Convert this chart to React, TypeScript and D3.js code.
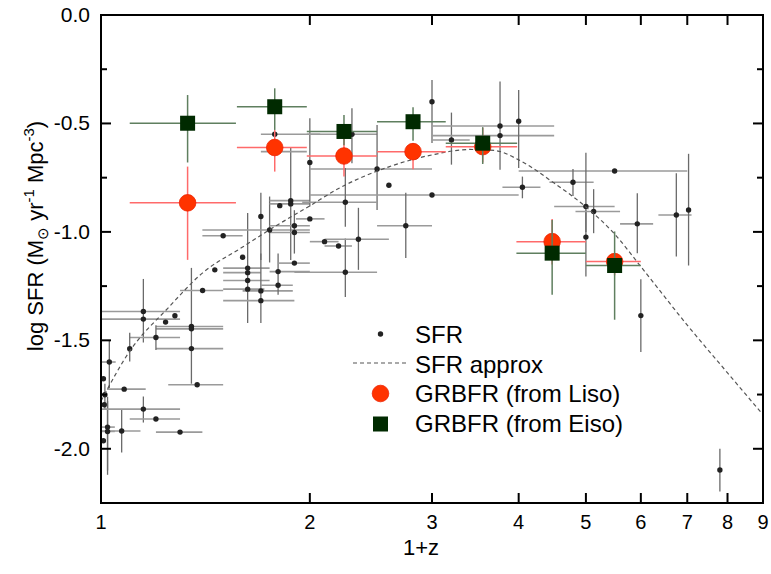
import React from 'react';
import * as d3 from 'd3';

const W = 771;
const H = 574;
const PL = 101, PR = 763, PT = 15, PB = 503;

const xTickValues = [1, 2, 3, 4, 5, 6, 7, 8, 9];
const yMajorTicks = [0, -0.5, -1.0, -1.5, -2.0];
const yMinorTicks = [-0.25, -0.75, -1.25, -1.75];

// SFR compilation: [1+z, log SFR, zLo, zHi, logLo, logHi]
type Pt = [number, number, number | null, number | null, number | null, number | null];
const sfrPoints: Pt[] = [
  [1.008, -1.677, null, null, null, null],
  [1.013, -1.751, null, null, -1.82, -1.7],
  [1.011, -1.797, null, null, null, null],
  [1.008, -1.963, null, null, null, null],
  [1.028, -1.6, 1.0, 1.05, -1.72, -1.5],
  [1.022, -1.9, 1.0, 1.047, -2.1, -1.76],
  [1.022, -1.92, 1.0, 1.047, -2.12, -1.78],
  [1.08, -1.725, 1.02, 1.16, null, null],
  [1.071, -1.918, 1.0, 1.14, -2.017, -1.82],
  [1.151, -1.367, 1.0, 1.3, -1.4, -1.217],
  [1.151, -1.402, 1.0, 1.3, -1.51, -1.4],
  [1.278, -1.387, null, null, null, null],
  [1.239, -1.416, null, null, null, null],
  [1.35, -1.436, 1.2, 1.5, -1.7, -1.166],
  [1.35, -1.447, 1.2, 1.5, null, null],
  [1.35, -1.538, 1.2, 1.5, null, null],
  [1.376, -1.705, 1.25, 1.5, null, null],
  [1.2, -1.487, 1.1, 1.3, -1.544, -1.43],
  [1.1, -1.539, null, null, -1.598, -1.465],
  [1.151, -1.817, 1.0, 1.3, -1.879, -1.759],
  [1.2, -1.863, 1.1, 1.3, null, null],
  [1.3, -1.923, 1.2, 1.4, null, null],
  [1.401, -1.27, 1.3, 1.5, null, null],
  [1.459, -1.175, null, null, null, null],
  [1.6, -1.117, null, null, null, null],
  [1.5, -1.018, 1.4, 1.6, null, null],
  [1.627, -1.167, 1.5, 1.75, -1.42, -0.913],
  [1.627, -1.188, 1.5, 1.7, null, null],
  [1.627, -1.224, 1.5, 1.75, null, null],
  [1.627, -1.264, 1.5, 1.72, null, null],
  [1.7, -0.929, null, null, -1.13, -0.82],
  [1.7, -1.272, 1.6, 1.89, -1.42, -1.1],
  [1.7, -1.317, 1.5, 1.9, null, null],
  [1.8, -1.183, 1.75, 2.0, -1.29, -1.1],
  [1.8, -1.246, 1.7, 1.89, null, null],
  [1.75, -0.991, 1.4, 2.0, -1.141, -0.837],
  [1.81, -0.879, null, null, null, null],
  [1.877, -0.856, 1.75, 2.0, -1.13, -0.613],
  [1.877, -0.871, 1.75, 2.0, null, null],
  [1.9, -0.972, 1.75, 2.0, -1.1, -0.9],
  [1.9, -1.003, 1.75, 2.0, null, null],
  [1.9, -1.144, 1.8, 2.0, null, null],
  [2.0, -0.94, 1.91, 2.1, null, null],
  [2.1, -1.045, 2.0, 2.2, null, null],
  [2.2, -1.065, 2.1, 2.3, null, null],
  [2.0, -0.68, null, null, -0.883, -0.476],
  [2.3, -0.55, 1.98, 2.5, -0.683, -0.43],
  [2.5, -0.71, 2.0, 3.0, -0.899, -0.507],
  [2.6, -0.785, null, null, null, null],
  [3.0, -0.83, 2.0, 4.0, null, null],
  [2.75, -0.972, 2.5, 3.0, -1.12, -0.82],
  [3.0, -0.4, null, null, -0.59, -0.3],
  [3.2, -0.576, 3.0, 3.4, -0.69, -0.45],
  [3.76, -0.512, 3.0, 4.5, -0.714, -0.307],
  [3.76, -0.556, 3.0, 4.5, null, null],
  [4.0, -0.49, null, null, -0.705, -0.346],
  [4.05, -0.794, 3.79, 4.3, -0.845, -0.745],
  [5.5, -0.719, 4.0, 7.0, null, null],
  [4.79, -0.771, 4.43, 5.13, -0.834, -0.71],
  [5.0, -0.883, 4.5, 5.5, -1.0, -0.635],
  [5.0, -1.024, null, null, -1.206, -0.9],
  [5.13, -0.906, 4.83, 5.6, -1.006, -0.803],
  [5.93, -0.963, 5.6, 6.25, -1.098, -0.822],
  [6.75, -0.922, 6.36, 7.1, -1.114, -0.73],
  [7.03, -0.899, null, null, -1.155, -0.64],
  [6.0, -1.386, null, null, -1.554, -1.218],
  [7.8, -2.098, null, null, -2.197, -2.0],
  [2.25, -0.863, 1.95, 2.5, -0.976, -0.706],
  [2.25, -1.186, 1.9, 2.5, -1.3, -1.03],
  [2.35, -1.034, 2.1, 2.6, -1.175, -0.889],
  [1.78, -0.55, 1.7, 2.07, null, null],
  [1.78, -0.63, 1.7, 1.98, null, null],
];

// SFR approximation curve, sampled from the figure
const approxZ = [1.0, 1.1, 1.25, 1.4, 1.6, 1.75, 2.0, 2.2, 2.6, 3.0, 3.4, 3.7, 4.0, 4.5, 5.0, 5.5, 6.0, 7.0, 8.0, 9.0];
const approxLog = [-1.78, -1.55, -1.35, -1.19, -1.07, -0.99, -0.88, -0.8, -0.7, -0.645, -0.62, -0.625, -0.668, -0.775, -0.885, -1.01, -1.16, -1.43, -1.65, -1.843];

// GRB formation rate points
const grbZ = [1.333, 1.78, 2.24, 2.817, 3.55, 4.47, 5.5];
const grbZLo = [1.1, 1.57, 1.98, 2.5, 3.14, 3.97, 5.0];
const grbZHi = [1.565, 1.98, 2.5, 3.14, 3.98, 5.0, 6.0];
const lisoLog = [-0.866, -0.611, -0.65, -0.63, -0.607, -1.045, -1.137];
const lisoLo = [-1.129, -0.722, -0.745, -0.711, -0.68, -1.15, -1.2];
const lisoHi = [-0.699, -0.53, -0.57, -0.59, -0.52, -0.941, -1.1];
const eisoLog = [-0.499, -0.423, -0.537, -0.492, -0.591, -1.098, -1.155];
const eisoLo = [-0.68, -0.53, -0.6, -0.58, -0.687, -1.29, -1.405];
const eisoHi = [-0.369, -0.338, -0.461, -0.425, -0.517, -0.945, -0.998];

const legendItems = ['SFR', 'SFR approx', 'GRBFR (from Liso)', 'GRBFR (from Eiso)'];

const FONT = '"Liberation Sans", Arial, Helvetica, sans-serif';

export default function App() {
  const x = d3.scaleLog().domain([1, 9]).range([PL, PR]);
  const y = d3.scaleLinear().domain([-2.25, 0]).range([PB, PT]);

  const curve = d3
    .line<number>()
    .x((_, i) => x(approxZ[i]))
    .y((d) => y(d))
    .curve(d3.curveMonotoneX)(approxLog) as string;

  const sfrBarH = '#9a9a9a';
  const sfrBarV = '#6a6a6a';
  const red = '#ff3300';
  const redBar = '#ff6a6a';
  const green = '#002a00';
  const greenBar = '#5f7f5f';
  const sq = 15;

  return (
    <svg
      width={W}
      height={H}
      style={{ position: 'absolute', left: 0, top: 0, background: '#fff' }}
      fontFamily={FONT}
    >
      <rect x={0} y={0} width={W} height={H} fill="#fff" />
      {/* SFR error bars */}
      <g>
        {sfrPoints.map((p, i) => (
          <g key={'sb' + i}>
            {p[2] !== null && p[3] !== null && (
              <line x1={x(p[2])} x2={x(p[3])} y1={y(p[1])} y2={y(p[1])} stroke={sfrBarH} strokeWidth={1.6} />
            )}
            {p[4] !== null && p[5] !== null && (
              <line x1={x(p[0])} x2={x(p[0])} y1={y(p[4])} y2={y(p[5])} stroke={sfrBarV} strokeWidth={1.3} />
            )}
          </g>
        ))}
      </g>
      <g>
        {sfrPoints.map((p, i) => (
          <circle key={'sd' + i} cx={x(p[0])} cy={y(p[1])} r={2.7} fill="#222" />
        ))}
      </g>
      {/* approx curve */}
      <path d={curve} fill="none" stroke="#555" strokeWidth={1.2} strokeDasharray="4,3" />

      {/* Liso */}
      <g>
        {grbZ.map((z, i) => (
          <g key={'lb' + i}>
            <line x1={x(grbZLo[i])} x2={x(grbZHi[i])} y1={y(lisoLog[i])} y2={y(lisoLog[i])} stroke={redBar} strokeWidth={1.5} />
            <line x1={x(z)} x2={x(z)} y1={y(lisoLo[i])} y2={y(lisoHi[i])} stroke={redBar} strokeWidth={1.5} />
          </g>
        ))}
        {grbZ.map((z, i) => (
          <circle key={'lc' + i} cx={x(z)} cy={y(lisoLog[i])} r={8.3} fill={red} stroke="#ee2200" strokeWidth={0.8} />
        ))}
      </g>
      {/* Eiso */}
      <g>
        {grbZ.map((z, i) => (
          <g key={'eb' + i}>
            <line x1={x(grbZLo[i])} x2={x(grbZHi[i])} y1={y(eisoLog[i])} y2={y(eisoLog[i])} stroke={greenBar} strokeWidth={1.5} />
            <line x1={x(z)} x2={x(z)} y1={y(eisoLo[i])} y2={y(eisoHi[i])} stroke={greenBar} strokeWidth={1.5} />
          </g>
        ))}
        {grbZ.map((z, i) => (
          <rect key={'es' + i} x={x(z) - sq / 2} y={y(eisoLog[i]) - sq / 2} width={sq} height={sq} fill={green} />
        ))}
      </g>

      {/* frame */}
      <rect x={PL} y={PT} width={PR - PL} height={PB - PT} fill="none" stroke="#000" strokeWidth={2} />
      {/* x ticks */}
      {xTickValues.map((t) => (
        <g key={'xt' + t}>
          <line x1={x(t)} x2={x(t)} y1={PB} y2={PB - 10} stroke="#000" strokeWidth={2} />
          <line x1={x(t)} x2={x(t)} y1={PT} y2={PT + 10} stroke="#000" strokeWidth={2} />
          <text x={x(t)} y={PB + 26} fontSize={20} textAnchor="middle" fill="#000">
            {t}
          </text>
        </g>
      ))}
      {/* y ticks */}
      {yMajorTicks.map((t) => (
        <g key={'yt' + t}>
          <line x1={PL} x2={PL + 10} y1={y(t)} y2={y(t)} stroke="#000" strokeWidth={2} />
          <line x1={PR} x2={PR - 10} y1={y(t)} y2={y(t)} stroke="#000" strokeWidth={2} />
          <text x={90} y={y(t) + 7} fontSize={21} textAnchor="end" fill="#000">
            {d3.format('.1f')(t).replace('−', '-')}
          </text>
        </g>
      ))}
      {yMinorTicks.map((t) => (
        <g key={'ym' + t}>
          <line x1={PL} x2={PL + 6} y1={y(t)} y2={y(t)} stroke="#000" strokeWidth={2} />
          <line x1={PR} x2={PR - 6} y1={y(t)} y2={y(t)} stroke="#000" strokeWidth={2} />
        </g>
      ))}

      {/* axis titles */}
      <text x={421} y={555} fontSize={22} textAnchor="middle" fill="#000">
        1+z
      </text>
      <text transform="translate(43,236) rotate(-90)" fontSize={22} textAnchor="middle" fill="#000">
        log SFR (M
        <tspan fontSize={15} dy={5}>⊙</tspan>
        <tspan dy={-5}> yr</tspan>
        <tspan fontSize={15} dy={-9}>-1</tspan>
        <tspan dy={9}> Mpc</tspan>
        <tspan fontSize={15} dy={-9}>-3</tspan>
        <tspan dy={9}>)</tspan>
      </text>

      {/* legend */}
      <g>
        <circle cx={380.5} cy={334} r={2.7} fill="#222" />
        <line x1={353} x2={408} y1={363} y2={363} stroke="#555" strokeWidth={1.2} strokeDasharray="4,3" />
        <circle cx={380.5} cy={393.5} r={8.3} fill={red} stroke="#ee2200" strokeWidth={0.8} />
        <rect x={380.5 - sq / 2} y={424 - sq / 2} width={sq} height={sq} fill={green} />
        {legendItems.map((s, i) => (
          <text key={s} x={415} y={343 + i * 29.5} fontSize={24} fill="#000">
            {s}
          </text>
        ))}
      </g>
    </svg>
  );
}
